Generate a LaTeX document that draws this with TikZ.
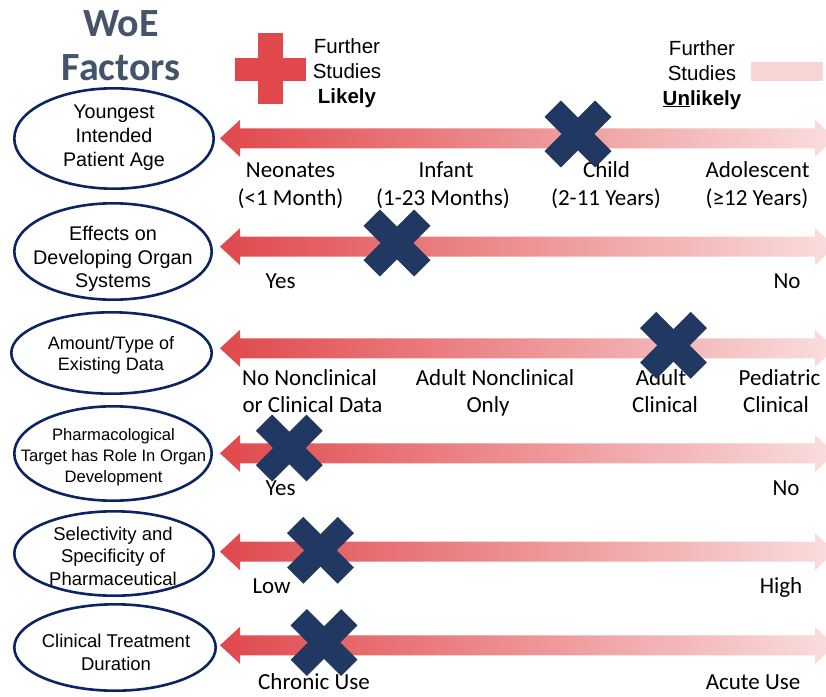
\documentclass[tikz,border=0pt]{standalone}
\usepackage{fontspec}
\setmainfont{Liberation Sans}
\newfontfamily\calfont{Carlito}
\usetikzlibrary{shapes.geometric}
\definecolor{redA}{RGB}{224,72,76}
\definecolor{pinkB}{RGB}{250,222,222}
\definecolor{pinkbox}{RGB}{248,213,213}
\definecolor{navyX}{RGB}{33,56,98}
\definecolor{navyE}{RGB}{12,36,98}
\definecolor{slate}{RGB}{68,84,106}
\tikzset{
  factor/.style={ellipse, draw=navyE, line width=2.6pt, inner sep=0pt},
  ftext/.style={align=center, inner sep=0pt},
  lbl/.style={anchor=base, inner sep=0pt, font=\calfont\fontsize{23}{28}\selectfont},
  legend/.style={anchor=base, inner sep=0pt, font=\fontsize{20.5}{25}\selectfont},
  titletext/.style={anchor=base, inner sep=0pt, text=slate, font=\calfont\bfseries\fontsize{40}{43}\selectfont},
  xmark/.pic={
    \fill[navyX, rotate=45] (-35.8,-11.5) rectangle (35.8,11.5);
    \fill[navyX, rotate=45] (-11.5,-35.8) rectangle (11.5,35.8);
  }
}
\newcommand\fatarrow[1]{%
  \begin{scope}[shift={(0,#1)}]
    \shade[left color=redA, right color=pinkB]
      (220,0) -- (240,-18.5) -- (240,-10) -- (815,-10) -- (815,-18.5) -- (835,0)
      -- (815,18.5) -- (815,10) -- (240,10) -- (240,18.5) -- cycle;
  \end{scope}}
\begin{document}
\begin{tikzpicture}[x=1pt,y=-1pt]
\useasboundingbox (0,0) rectangle (826,696);
\clip (0,0) rectangle (826,696);
\fill[white] (0,0) rectangle (826,696);

% title
\node[titletext] (title1) at (121,36.7) {WoE};
\node[titletext] (title2) at (121,80) {Factors};

% legend
\fill[redA] (258,33) rectangle (283,104);
\fill[redA] (235,58) rectangle (306,81);
\node[legend] (lg1) at (347,53) {Further};
\node[legend] (lg2) at (347,78) {Studies};
\node[legend] (lg3) at (347,103) {\bfseries Likely};
\node[legend] (rg1) at (702,55) {Further};
\node[legend] (rg2) at (702,80) {Studies};
\node[legend] (rg3) at (702,105) {\bfseries\underline{Un}likely};
\fill[pinkbox] (751,62) rectangle (823,81);

% arrows
\fatarrow{138.3}
\fatarrow{246.7}
\fatarrow{348.3}
\fatarrow{453.3}
\fatarrow{551.7}
\fatarrow{645.3}

% ellipses
\node[factor, minimum width=199.4pt, minimum height=100.4pt] (e1) at (114,138.5) {};
\node[factor, minimum width=197.4pt, minimum height=96.4pt] (e2) at (113,251.5) {};
\node[factor, minimum width=200.4pt, minimum height=81.4pt] (e3) at (111.5,353) {};
\node[factor, minimum width=197.4pt, minimum height=94.4pt] (e4) at (113,453.5) {};
\node[factor, minimum width=199.4pt, minimum height=84.4pt] (e5) at (114,553.5) {};
\node[factor, minimum width=201.4pt, minimum height=86.4pt] (e6) at (115,647.5) {};

\node[ftext, font=\fontsize{19.7}{24}\selectfont] (t1) at (114,138) {Youngest\\Intended\\Patient Age};
\node[ftext, font=\fontsize{19.8}{23.5}\selectfont] (t2) at (113,259) {Effects on\\Developing Organ\\Systems};
\node[ftext, font=\fontsize{18}{21}\selectfont] (t3) at (111,355) {Amount/Type of\\Existing Data};
\node[ftext, font=\fontsize{16.6}{21}\selectfont] (t4) at (113.5,457) {Pharmacological\\Target has Role In Organ\\Development};
\node[ftext, font=\fontsize{18.5}{22.5}\selectfont] (t5) at (113,556) {Selectivity and\\Specificity of\\Pharmaceutical};
\node[ftext, font=\fontsize{18.5}{23}\selectfont] (t6) at (116,652) {Clinical Treatment\\Duration};

% row labels
\node[lbl] (a1) at (290.5,177) {Neonates};
\node[lbl] (a2) at (290.5,205) {(<1 Month)};
\node[lbl] (a3) at (446,177) {Infant};
\node[lbl] (a4) at (443,205) {(1-23 Months)};
\node[lbl] (a5) at (606.5,177) {Child};
\node[lbl] (a6) at (606,205) {(2-11 Years)};
\node[lbl] (a7) at (757.5,177) {Adolescent};
\node[lbl] (a8) at (757,205) {(≥12 Years)};

\node[lbl] (b1) at (280.5,288) {Yes};
\node[lbl] (b2) at (787,288) {No};

\node[lbl] (c1) at (309.5,385) {No Nonclinical};
\node[lbl] (c2) at (312.5,412) {or Clinical Data};
\node[lbl] (c3) at (495,385) {Adult Nonclinical};
\node[lbl] (c4) at (488,412) {Only};
\node[lbl] (c5) at (661,385) {Adult};
\node[lbl] (c6) at (665,412) {Clinical};
\node[lbl] (c7) at (779.5,385) {Pediatric};
\node[lbl] (c8) at (776,412) {Clinical};

\node[lbl] (d1) at (280.5,495) {Yes};
\node[lbl] (d2) at (786,495) {No};

\node[lbl] (f1) at (271.6,593) {Low};
\node[lbl] (f2) at (781,593) {High};

\node[lbl] (g1) at (314,689) {Chronic Use};
\node[lbl] (g2) at (753,689) {Acute Use};

% X marks
\pic at (578,134) {xmark};
\pic at (397,243) {xmark};
\pic at (673.5,345.3) {xmark};
\pic at (289.3,448) {xmark};
\pic at (320.5,550.3) {xmark};
\pic at (324,642.5) {xmark};
\end{tikzpicture}
\end{document}
